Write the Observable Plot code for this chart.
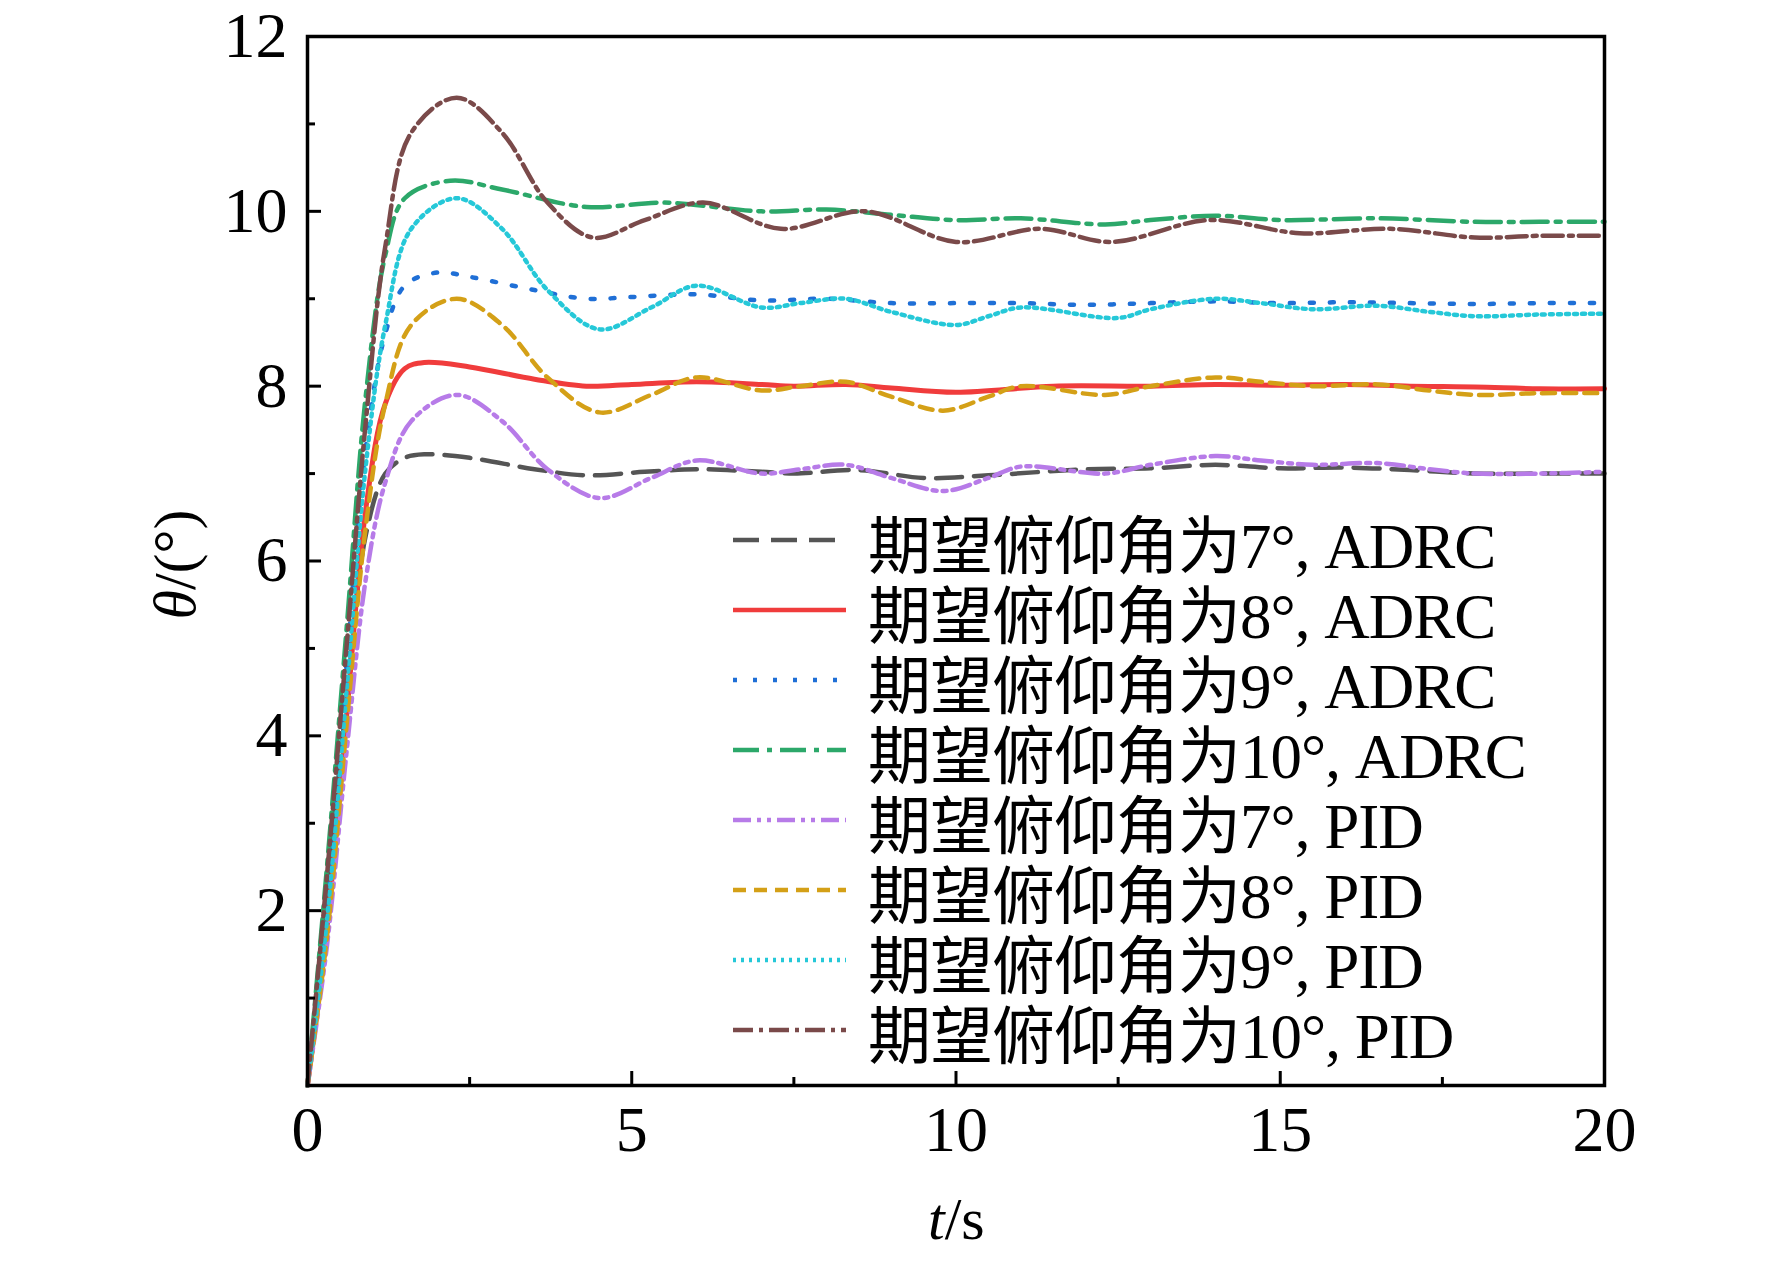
<!DOCTYPE html>
<html><head><meta charset="utf-8">
<script src="https://cdn.jsdelivr.net/npm/d3@7"></script>
<script src="https://cdn.jsdelivr.net/npm/@observablehq/plot@0.6"></script>
<style>
body{margin:0;background:#fff;font-family:"Liberation Serif","Noto Sans CJK SC",serif;}
#wrap{position:relative;width:1772px;height:1263px;}
#wrap svg{overflow:visible}
.lab{position:absolute;font-family:"Liberation Serif",serif;font-size:60px;color:#000;white-space:nowrap}
#legend{position:absolute;left:733px;top:505px;}
.row{display:flex;align-items:center;height:70px;font-family:"Liberation Serif","Noto Sans CJK SC",serif;font-size:63px;letter-spacing:-1px}
.row svg{margin-right:22px}
</style></head><body>
<div id="wrap"></div>
<script>
const names = ["期望俯仰角为7°, ADRC","期望俯仰角为8°, ADRC","期望俯仰角为9°, ADRC","期望俯仰角为10°, ADRC","期望俯仰角为7°, PID","期望俯仰角为8°, PID","期望俯仰角为9°, PID","期望俯仰角为10°, PID"];
const colors = ["#555555","#f03c3c","#1f6fd6","#2ca86a","#b77be8","#d4a017","#25c8d8","#7a4a4a"];
const dashes = ["26,12","none","4,16","26,8,5,8","18,6,4,6,4,6","13,8","3,5","20,6,4,6"];
const xTicks = [0,5,10,15,20];
const yTicks = [2,4,6,8,10,12];

const tADRC7  = [0,0.3,0.6,0.9,1.2,1.5,1.8,2.5,3.5,4.3,5.2,6,7,7.5,8.5,9.5,10.5,12,13,14,15,16,17,18,19,20];
const vADRC7  = [0,2.2,4.4,6.3,7.0,7.18,7.22,7.18,7.05,6.98,7.02,7.05,7.02,7.0,7.04,6.95,6.98,7.05,7.06,7.1,7.06,7.07,7.04,7.0,7.0,7.0];
const tADRC8  = [0,0.3,0.6,0.9,1.2,1.5,1.8,2.5,3.5,4.3,5,6,7,7.5,8.3,9,10,11.5,13,14,15,16,17,18,19,20];
const vADRC8  = [0,1.8,4.2,6.6,7.8,8.2,8.27,8.22,8.08,8.0,8.02,8.05,8.02,8.0,8.02,7.98,7.93,8.0,8.0,8.02,8.01,8.02,8.0,7.99,7.97,7.97];
const tADRC9  = [0,0.3,0.6,0.9,1.2,1.5,2,2.5,3.5,4.3,5,6,7,8,9,10,11,12,13,14,15,16,17,18,19,20];
const vADRC9  = [0,2.3,4.8,7.3,8.6,9.15,9.3,9.25,9.1,9.0,9.02,9.05,8.98,9.0,8.95,8.95,8.95,8.93,8.95,8.97,8.95,8.96,8.95,8.94,8.95,8.95];
const tADRC10 = [0,0.3,0.6,0.9,1.2,1.5,2.2,3,4.3,5.5,7,8,9,10,11,12.3,13,14,15,16.5,18,19,20];
const vADRC10 = [0,2.5,5.2,7.9,9.5,10.15,10.35,10.25,10.05,10.1,10.0,10.02,9.96,9.9,9.92,9.85,9.9,9.95,9.9,9.92,9.88,9.88,9.88];
const tPID7   = [0,0.3,0.6,0.9,1.2,1.6,2.3,3,3.7,4.5,5.3,6,7,7.6,8.3,9,9.8,10.5,11,12.3,13,14,14.7,15.5,16.5,17.3,18,19,20];
const vPID7   = [0,1.6,3.8,5.8,6.9,7.6,7.9,7.6,7.05,6.72,6.95,7.15,7.0,7.05,7.1,6.95,6.8,6.95,7.08,7.0,7.1,7.2,7.15,7.1,7.12,7.05,7.0,7.0,7.02];
const tPID8   = [0,0.3,0.6,0.9,1.2,1.6,2.3,3,3.7,4.5,5.3,6,7,7.6,8.3,9,9.8,10.5,11,12.3,13,14,14.7,15.5,16.5,17.3,18,19,20];
const vPID8   = [0,1.7,4.1,6.4,7.8,8.7,9.0,8.7,8.1,7.7,7.9,8.1,7.95,8.0,8.05,7.88,7.72,7.88,8.0,7.9,8.0,8.1,8.05,8.0,8.02,7.95,7.9,7.92,7.92];
const tPID9   = [0,0.3,0.6,0.9,1.2,1.6,2.3,3,3.7,4.5,5.3,6,7,7.6,8.3,9,10,10.5,11,12.5,13,14,14.7,15.5,16.5,17.3,18,19,20];
const vPID9   = [0,1.9,4.5,7.1,8.7,9.8,10.15,9.8,9.1,8.65,8.9,9.15,8.9,8.95,9.0,8.85,8.7,8.8,8.9,8.78,8.88,9.0,8.95,8.88,8.92,8.85,8.8,8.82,8.83];
const tPID10  = [0,0.3,0.6,0.9,1.2,1.6,2.3,3,3.7,4.4,5.2,6.1,7.3,8.6,10,11.3,12.4,13.9,15.3,16.7,18,19,20];
const vPID10  = [0,2.4,5.0,7.6,9.6,10.9,11.3,10.9,10.1,9.7,9.9,10.1,9.8,10.0,9.65,9.8,9.65,9.9,9.75,9.8,9.7,9.72,9.72];

const ts = [tADRC7,tADRC8,tADRC9,tADRC10,tPID7,tPID8,tPID9,tPID10];
const vs = [vADRC7,vADRC8,vADRC9,vADRC10,vPID7,vPID8,vPID9,vPID10];
const data = [];
ts.forEach((t,i)=>t.forEach((x,j)=>data.push({s:i,t:x,v:vs[i][j]})));

const W=1772,H=1263,L=307,R=168,T=36,B=178;
const marks = [];
for(let i=0;i<8;i++){
  marks.push(Plot.line(data.filter(d=>d.s===i),{x:"t",y:"v",curve:"catmull-rom",stroke:colors[i],strokeWidth:i===1?5:4.5,strokeDasharray:dashes[i]}));
}
marks.push(Plot.axisX({ticks:xTicks,tickSize:-14,tickPadding:34,fontSize:64,label:null,tickFormat:d=>d}));
marks.push(Plot.axisX({ticks:[2.5,7.5,12.5,17.5],tickSize:-8,tickFormat:()=>"" ,label:null}));
marks.push(Plot.axisY({ticks:yTicks,tickSize:-14,tickPadding:34,fontSize:64,label:null,tickFormat:d=>d}));
marks.push(Plot.axisY({ticks:[1,3,5,7,9,11],tickSize:-8,tickFormat:()=>"",label:null}));
marks.push(Plot.frame({stroke:"#000",strokeWidth:3.5}));

const chart = Plot.plot({
  width:W,height:H,marginLeft:L,marginRight:R,marginTop:T,marginBottom:B,
  x:{domain:[0,20]},y:{domain:[0,12]},
  style:{fontFamily:"Liberation Serif, serif",fontSize:"64px",color:"#000",background:"#fff",overflow:"visible"},
  marks
});
chart.querySelectorAll("[aria-label^='x-axis tick'] path, [aria-label^='y-axis tick'] path").forEach(p=>p.setAttribute("stroke-width","3"));
const wrap=document.getElementById("wrap");
wrap.appendChild(chart);

const yl=document.createElement("div");yl.className="lab";
yl.innerHTML="<i>θ</i>/(°)";
yl.style.left="120px";yl.style.top="530px";yl.style.transform="rotate(-90deg)";yl.style.transformOrigin="center";
wrap.appendChild(yl);
const xl=document.createElement("div");xl.className="lab";
xl.innerHTML="<i>t</i>/s";xl.style.left="928px";xl.style.top="1185px";
wrap.appendChild(xl);

const lg=document.createElement("div");lg.id="legend";
names.forEach((n,i)=>{
  const r=document.createElement("div");r.className="row";
  r.innerHTML=`<svg width="113" height="20"><line x1="0" y1="10" x2="113" y2="10" stroke="${colors[i]}" stroke-width="4.5" stroke-dasharray="${dashes[i]}"/></svg><span>${n}</span>`;
  lg.appendChild(r);
});
wrap.appendChild(lg);
</script></body></html>
